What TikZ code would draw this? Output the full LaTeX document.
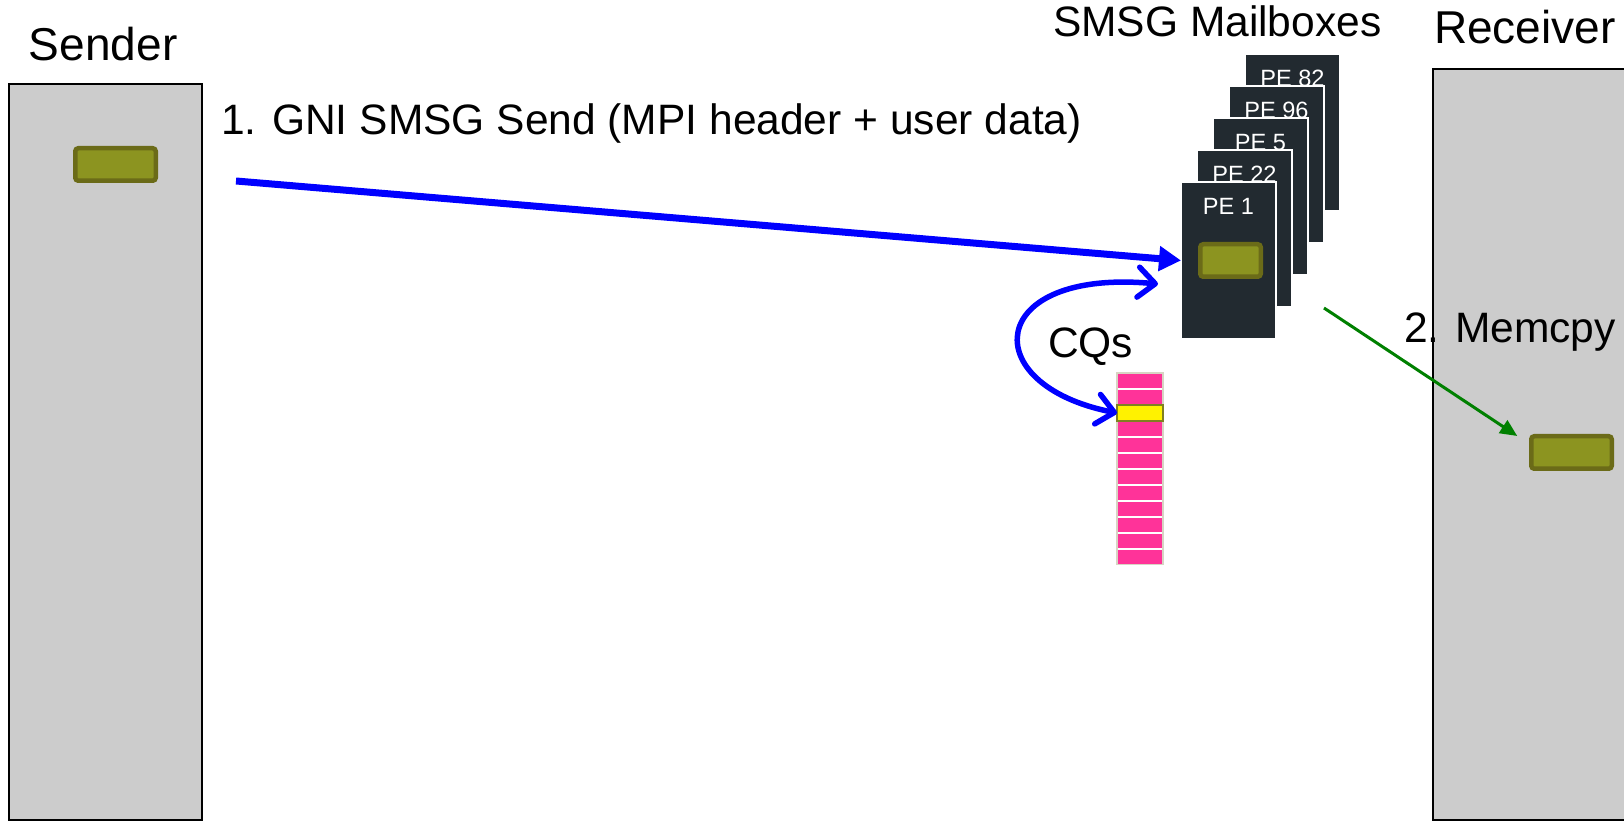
\documentclass[tikz,border=0pt]{standalone}
\usepackage{fontspec}
\setmainfont{Liberation Sans}
\usetikzlibrary{arrows.meta}

\definecolor{hostgray}{RGB}{204,204,204}
\definecolor{bufolive}{RGB}{140,148,32}
\definecolor{bufedge}{RGB}{107,107,24}
\definecolor{mboxdark}{RGB}{34,42,48}
\definecolor{cqpink}{RGB}{255,51,153}
\definecolor{cqedge}{RGB}{216,212,196}
\definecolor{hitedge}{RGB}{128,128,32}
\definecolor{memgreen}{RGB}{0,128,0}

\begin{document}
\begin{tikzpicture} [every node/.style={inner sep=0pt,outer sep=0pt},
        host/.style={draw=black,line width=0.02cm,fill=hostgray,anchor=north west},
        buf/.style={draw=bufedge,line width=0.045cm,fill=bufolive,rounded corners=0.03cm,minimum height=0.325cm},
        mbox/.style={draw=white,line width=0.012cm,fill=mboxdark,minimum width=0.95cm,minimum height=1.57cm,anchor=north west},
        pelabel/.style={text=white,font=\fontsize{6.7}{8}\selectfont,anchor=base},
        cqcol/.style={draw=cqedge,line width=0.02cm,fill=white,minimum width=0.46cm,minimum height=1.91cm},
        cqrow/.style={fill=cqpink,minimum width=0.44cm,minimum height=0.145cm},
        cqhit/.style={draw=hitedge,line width=0.02cm,fill=yellow,minimum width=0.46cm,minimum height=0.155cm},
        head/.style={font=\fontsize{13.1}{15}\selectfont,anchor=base west},
        lbl/.style={font=\fontsize{12.1}{14}\selectfont,anchor=base west},
        sendarrow/.style={blue,line width=0.07cm,-{Triangle[length=0.22cm,width=0.24cm]}},
        cqarrow/.style={blue,line width=0.055cm,line cap=round,>={Straight Barb[length=0.17cm,width=0.3cm,round]},<->},
        memarrow/.style={memgreen,line width=0.03cm,-{Triangle[length=0.17cm,width=0.15cm]}}]

            \useasboundingbox (0,0) rectangle (16.24,-8.21);

            \node[host,minimum width=1.93cm,minimum height=7.36cm] (sender) at (0.09,-0.84) {};
            \node[host,minimum width=2.1cm,minimum height=7.51cm] (receiver) at (14.33,-0.69) {};

            \node[buf,minimum width=0.805cm] (sbuf) at (1.155,-1.645) {};
            \node[buf,minimum width=0.805cm] (rbuf) at (15.715,-4.525) {};

            \foreach \lab/\i in {PE 82/4, PE 96/3, PE 5/2, PE 22/1, PE 1/0} {
                \node[mbox] (mb\i) at ({11.81+0.16*\i},{-1.82+0.32*\i}) {};
                \node[pelabel] at ([yshift=-0.33cm]mb\i.north) {\lab};
            }
            \node[buf,minimum width=0.605cm] (mbuf) at (12.305,-2.605) {};

            \node[cqcol] (cq) at (11.40,-4.685) {};
            \foreach \i in {0,...,11}
                \node[cqrow] (cq\i) at ({11.40},{-3.81-0.16*\i}) {};
            \node[cqhit] (cqhit) at (cq2) {};

            \node[head] (sendlbl) at (0.29,-0.61) {Sender};
            \node[head] (recvlbl) at (14.34,-0.44) {Receiver};
            \node[lbl] (mblbl) at (10.53,-0.37) {SMSG Mailboxes};
            \node[lbl] (sendmsg) at (2.21,-1.35) {1. GNI SMSG Send (MPI header + user data)};
            \node[lbl] (cqlbl) at (10.48,-3.58) {CQs};
            \node[lbl] (memlbl) at (14.04,-3.43) {2. Memcpy};

            \coordinate (sendstart) at (2.36,-1.81);
            \coordinate (cqtop) at (11.58,-2.84);
            \coordinate (memstart) at (13.24,-3.08);
            \coordinate (memend) at ([shift={(-0.14,0.165)}]rbuf.west);

            \draw[sendarrow] (sendstart) -- (mb0.west);
            \draw[cqarrow] (cqtop) .. controls (9.85,-2.68) and (9.75,-3.85) .. (cqhit.west);
            \draw[memarrow] (memstart) -- (memend);
        \end{tikzpicture}
\end{document}
